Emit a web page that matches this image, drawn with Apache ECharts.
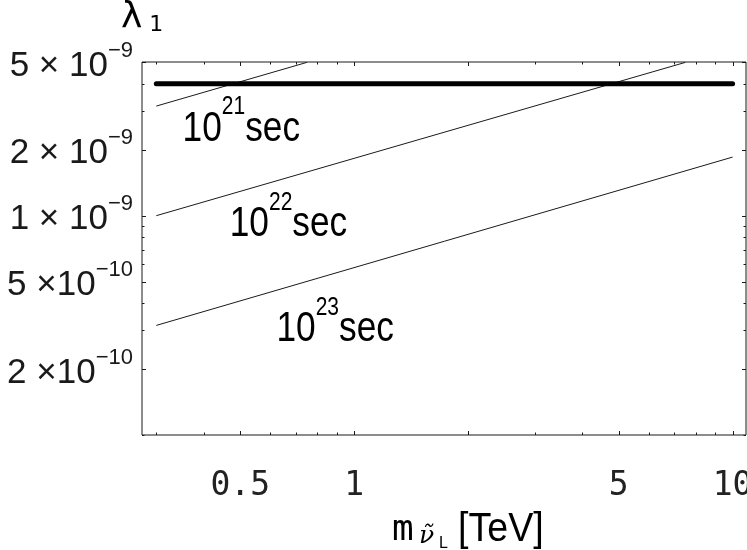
<!DOCTYPE html>
<html><head><meta charset="utf-8">
<script src="https://cdn.jsdelivr.net/npm/echarts@6/dist/echarts.min.js"></script>
<style>html,body{margin:0;padding:0;background:#fff}#c{width:747px;height:550px}</style>
</head><body><div id="c"></div>
<script>
// ---- data ----
const xTicksMajor = [0.5, 1, 2, 5, 10];
const xTicksMinor = [0.3, 0.4, 0.6, 0.7, 0.8, 0.9, 3, 4, 6, 7, 8, 9];
const xTickLabels = [[0.5, '0.5'], [1, '1'], [5, '5'], [10, '10']];
const yTicksMajor = [2e-10, 5e-10, 1e-9, 2e-9, 5e-9];
const yTicksMinor = [1e-10, 3e-10, 4e-10, 6e-10, 7e-10, 8e-10, 9e-10, 3e-9, 4e-9];
const yTickLabels = [[5e-9, '5 × 10', '−9'], [2e-9, '2 × 10', '−9'], [1e-9, '1 × 10', '−9'], [5e-10, '5 ×10', '−10'], [2e-10, '2 ×10', '−10']];
const lineThick = [[0.3, 4.0e-9], [10, 4.0e-9]];
const line21 = [[0.3, 3.16e-9], [0.75, 5.0e-9]];
const line22 = [[0.3, 1.0e-9], [7.5, 5.0e-9]];
const line23 = [[0.3, 3.16e-10], [10, 1.85e-9]];
const notes = [[0.352, 2.175e-9, '21'], [0.469, 0.80e-9, '22'], [0.623, 2.655e-10, '23']];
const xRange = [0.275, 10.85];
const yRange = [1.0e-10, 5.02e-9];

const chart = echarts.init(document.getElementById('c'), null, {renderer: 'canvas'});
const INK = '#1a1a1a';

function renderDecor(params, api) {
  const cs = params.coordSys;
  const L = cs.x, R = cs.x + cs.width, T = cs.y, B = cs.y + cs.height;
  const ch = [];
  const st = {stroke: INK, lineWidth: 1};
  function xt(v, len) {
    const px = Math.round(api.coord([v, 1e-9])[0]) + 0.5;
    ch.push({type: 'line', shape: {x1: px, y1: B, x2: px, y2: B - len}, style: st});
    ch.push({type: 'line', shape: {x1: px, y1: T, x2: px, y2: T + len}, style: st});
  }
  function yt(v, len) {
    const py = Math.round(api.coord([1, v])[1]) + 0.5;
    ch.push({type: 'line', shape: {x1: L, y1: py, x2: L + len, y2: py}, style: st});
    ch.push({type: 'line', shape: {x1: R, y1: py, x2: R - len, y2: py}, style: st});
  }
  xTicksMajor.forEach(v => xt(v, 4));
  xTicksMinor.forEach(v => xt(v, 2.5));
  yTicksMajor.forEach(v => yt(v, 4));
  yTicksMinor.forEach(v => yt(v, 2.5));
  xTickLabels.forEach(([v, s]) => {
    const px = api.coord([v, 1e-9])[0];
    ch.push({type: 'text', x: px, y: B + 51, style: {text: s, fill: '#222', align: 'center', verticalAlign: 'middle',
      fontFamily: 'DejaVu Sans Mono', fontSize: 33}});
  });
  yTickLabels.forEach(([v, b, e]) => {
    const py = api.coord([1, v])[1];
    ch.push({type: 'text', x: 133, y: py + 4, style: {text: '{b|' + b + '}{s|' + e + '}', align: 'right', verticalAlign: 'middle',
      rich: {
        b: {fontFamily: 'Liberation Sans', fontSize: 35, fill: INK, lineHeight: 53},
        s: {fontFamily: 'Liberation Sans', fontSize: 22, fill: INK, lineHeight: 22, verticalAlign: 'top'}
      }}});
  });
  notes.forEach(([x, y, e]) => {
    const p = api.coord([x, y]);
    ch.push({type: 'text', x: p[0], y: p[1] - 12.6, scaleX: 0.84, style: {text: '{b|10}{s|' + e + '}{b|sec}', align: 'left', verticalAlign: 'middle',
      rich: {
        b: {fontFamily: 'Liberation Sans', fontSize: 42, fill: '#000', lineHeight: 68},
        s: {fontFamily: 'Liberation Sans', fontSize: 25, fill: '#000', lineHeight: 25, verticalAlign: 'top'}
      }}});
  });
  return {type: 'group', children: ch};
}

const option = {
  backgroundColor: '#fff',
  animation: false,
  grid: {left: 142, right: 1, top: 62, bottom: 115, show: true, borderColor: INK, borderWidth: 1, containLabel: false},
  xAxis: {type: 'log', logBase: 10, min: xRange[0], max: xRange[1],
    axisLine: {show: false}, axisTick: {show: false}, axisLabel: {show: false}, splitLine: {show: false}},
  yAxis: {type: 'log', logBase: 10, min: yRange[0], max: yRange[1],
    axisLine: {show: false}, axisTick: {show: false}, axisLabel: {show: false}, splitLine: {show: false}},
  graphic: [
    {type: 'text', left: 121, top: 0, style: {text: '{l|λ}{n| 1}',
      rich: {l: {fontFamily: 'DejaVu Sans', fontSize: 36, fill: '#000', lineHeight: 36},
             n: {fontFamily: 'DejaVu Sans', fontSize: 22, fill: '#000', lineHeight: 36, verticalAlign: 'bottom'}}}},
    {type: 'text', x: 392, y: 531, style: {text: 'm', fontFamily: 'DejaVu Sans Mono', fontSize: 36, fill: '#000', align: 'left', verticalAlign: 'middle'}},
    {type: 'text', x: 419, y: 536, style: {text: 'ν̃', fontFamily: 'DejaVu Serif', fontStyle: 'italic', fontSize: 25, fill: '#000', align: 'left', verticalAlign: 'middle'}},
    {type: 'text', x: 439, y: 543.5, style: {text: 'L', fontFamily: 'Liberation Sans', fontSize: 16, fill: '#000', align: 'left', verticalAlign: 'middle'}},
    {type: 'text', x: 458, y: 530, scaleX: 0.94, style: {text: '[TeV]', fontFamily: 'Liberation Sans', fontSize: 40, fill: '#000', align: 'left', verticalAlign: 'middle'}}
  ],
  series: [
    {type: 'line', data: line21, showSymbol: false, lineStyle: {color: INK, width: 1}, silent: true},
    {type: 'line', data: line22, showSymbol: false, lineStyle: {color: INK, width: 1}, silent: true},
    {type: 'line', data: line23, showSymbol: false, lineStyle: {color: INK, width: 1}, silent: true},
    {type: 'line', data: lineThick, showSymbol: false, lineStyle: {color: '#000', width: 5, cap: 'round'}, silent: true},
    {type: 'custom', data: [[1, 1e-9]], renderItem: renderDecor, silent: true, clip: false, z: 5}
  ]
};
chart.setOption(option);
</script></body></html>
